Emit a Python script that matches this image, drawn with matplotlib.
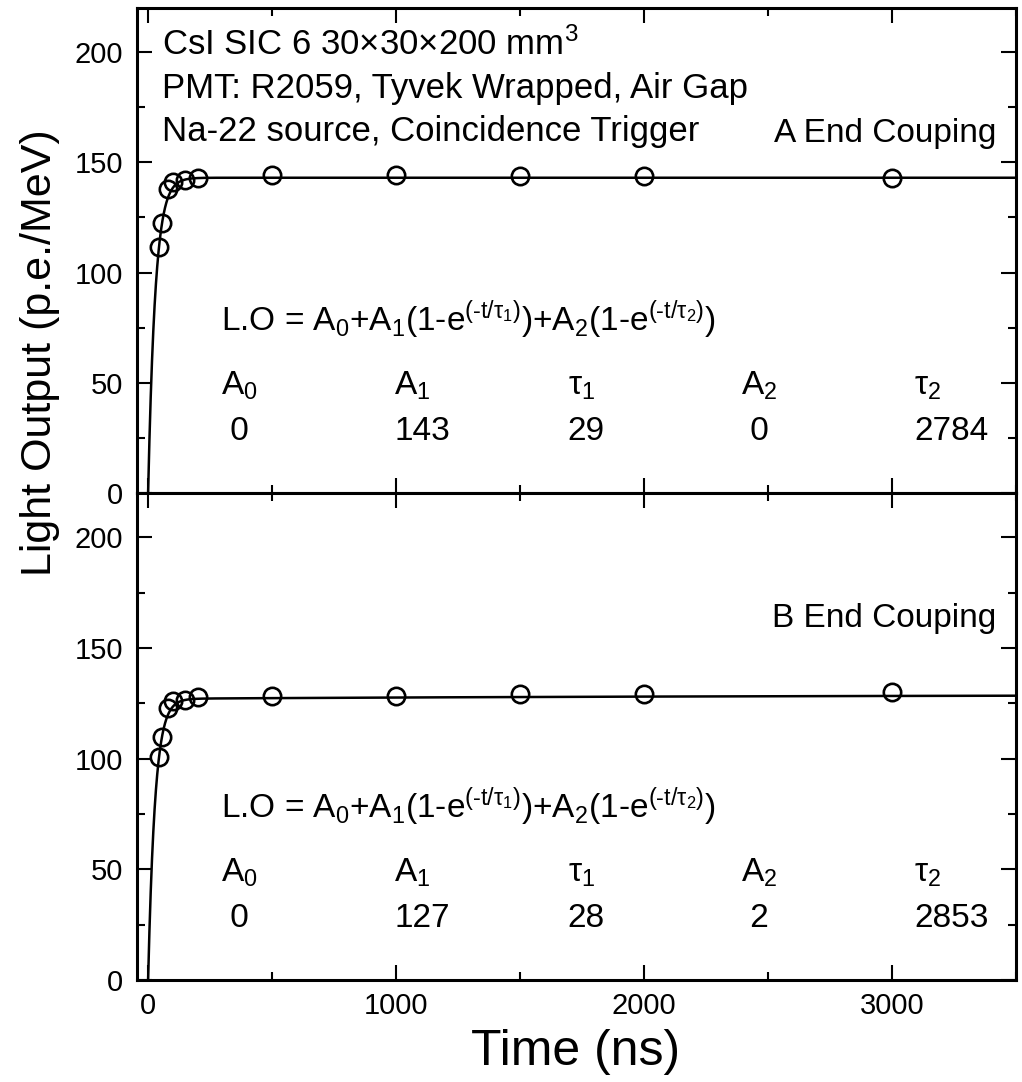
import numpy as np
import matplotlib
matplotlib.use('Agg')
import matplotlib.pyplot as plt
from matplotlib.ticker import MultipleLocator

plt.rcParams['font.family'] = ['Liberation Sans', 'DejaVu Sans']
plt.rcParams['mathtext.fontset'] = 'custom'
plt.rcParams['mathtext.rm'] = 'Liberation Sans'
plt.rcParams['mathtext.it'] = 'Liberation Sans'
plt.rcParams['mathtext.default'] = 'regular'

# measured points (ns, p.e./MeV)
time_ns = [45, 55, 80, 100, 150, 200, 500, 1000, 1500, 2000, 3000]
lo_a = [111.7, 122.3, 137.7, 141.2, 142.0, 142.7, 144.1, 144.1, 144.0, 144.0, 142.8]
lo_b = [100.8, 109.7, 122.7, 125.8, 126.5, 128.0, 128.5, 128.5, 129.0, 129.1, 129.9]

# fit results: A0, A1, tau1, A2, tau2
par_names = [r'A$_0$', r'A$_1$', r'$\tau_1$', r'A$_2$', r'$\tau_2$']
fit_a = [0, 143, 29, 0, 2784]
fit_b = [0, 127, 28, 2, 2853]

labels = ['A End Couping', 'B End Couping']
header = ['CsI SIC 6 30\u00d730\u00d7200 mm$^3$',
          'PMT: R2059, Tyvek Wrapped, Air Gap',
          'Na-22 source, Coincidence Trigger']
formula = (r'L.O = A$_0$+A$_1$(1-e$^{(\text{-}t/\tau_1)}$)'
           r'+A$_2$(1-e$^{(\text{-}t/\tau_2)}$)')


def lo_fit(t, p):
    a0, a1, t1, a2, t2 = p
    return a0 + a1 * (1 - np.exp(-t / t1)) + a2 * (1 - np.exp(-t / t2))


fig = plt.figure(figsize=(10.22, 10.82), dpi=100)
ax1 = fig.add_axes([0.134, 0.5444, 0.86, 0.4482])
ax2 = fig.add_axes([0.134, 0.0943, 0.86, 0.4501], sharex=ax1)

tt = np.linspace(0, 3500, 2000)
par_x = [0.096, 0.293, 0.49, 0.687, 0.884]
fs = 24

for ax, lo, fit, lab in [(ax1, lo_a, fit_a, labels[0]), (ax2, lo_b, fit_b, labels[1])]:
    ax.plot(tt, lo_fit(tt, fit), color='black', lw=1.8)
    ax.plot(time_ns, lo, 'o', ms=12.5, mfc='none', mec='black', mew=1.9)
    ax.set_xlim(-45, 3500)
    ax.set_ylim(0, 220)
    ax.xaxis.set_major_locator(MultipleLocator(1000))
    ax.xaxis.set_minor_locator(MultipleLocator(500))
    ax.yaxis.set_major_locator(MultipleLocator(50))
    ax.yaxis.set_minor_locator(MultipleLocator(25))
    ax.tick_params(which='both', direction='in', top=True, right=True,
                   width=1.5, labelsize=21)
    ax.tick_params(which='major', length=11)
    ax.tick_params(which='minor', length=6)
    ax.tick_params(axis='y', pad=10)
    ax.tick_params(axis='x', pad=9)
    for s in ax.spines.values():
        s.set_linewidth(2.2)
    ax.text(0.978, 0.724, lab, transform=ax.transAxes, ha='right', va='baseline', fontsize=fs)
    ax.text(0.096, 0.334, formula, transform=ax.transAxes, ha='left', va='baseline', fontsize=fs)
    for x, n, v in zip(par_x, par_names, fit):
        ax.text(x, 0.203, n, transform=ax.transAxes, ha='left', va='baseline', fontsize=fs)
        ax.text(x, 0.109, f'{v:>2}', transform=ax.transAxes, ha='left', va='baseline', fontsize=fs)

for i, h in enumerate(header):
    ax1.text(0.028, 0.903 - i * 0.0887, h, transform=ax1.transAxes, ha='left', va='baseline', fontsize=25)

ax1.tick_params(labelbottom=False)
fig.text(0.5636, 0.0277, 'Time (ns)', ha='center', va='center', fontsize=36)
fig.text(0.039, 0.674, 'Light Output (p.e./MeV)', rotation=90, ha='center', va='center', fontsize=31)

fig.savefig('out.png', dpi=100)
